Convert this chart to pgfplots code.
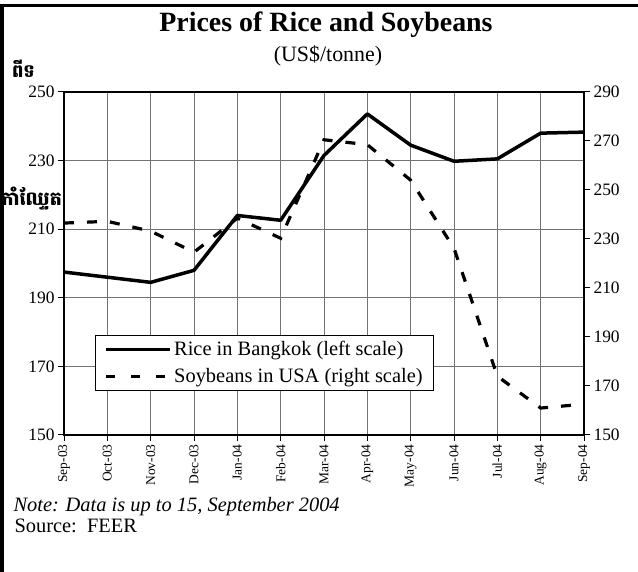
\documentclass[border=0pt]{standalone}
\usepackage{pgfplots}
\pgfplotsset{compat=1.18}
\usepackage{fontspec}
\setmainfont{Liberation Serif}
\newfontfamily\khmerfont[Script=Khmer]{Battambang}
\pgfplotstableread{
x rice
0 197.5
1 196.0
2 194.5
3 198.0
4 214.0
5 212.6
6 231.5
7 243.6
8 234.5
9 229.8
10 230.5
11 238.0
12 238.3
}\ricedata
\pgfplotstableread{
x soy
0 236.5
1 237.2
2 233.2
3 224.6
4 238.5
5 230.3
6 270.5
7 268.5
8 254.0
9 226.2
10 174.0
11 161.0
12 162.6
}\soydata
\begin{document}
\begin{tikzpicture}[x=1bp,y=1bp]
\path[use as bounding box] (0,0) rectangle (638,572);
\node[anchor=base east,inner sep=0pt,font=\khmerfont\bfseries\fontsize{18}{18}\selectfont] at (35,494) {ពីទ};
\node[anchor=base east,inner sep=0pt,font=\khmerfont\bfseries\fontsize{19}{19}\selectfont] at (62,366) {កាំឈ្ទែត};
\fill[black] (0,0) rectangle (4,567);
\fill[black] (0,565) rectangle (638,567.5);
\node[font=\bfseries\fontsize{28}{28}\selectfont] at (326,547) {Prices of Rice and Soybeans};
\node[font=\fontsize{22}{22}\selectfont] at (328,516) {(US\$/tonne)};
\begin{axis}[
  at={(64bp,137bp)}, anchor=south west, scale only axis,
  width=520bp, height=343bp,
  xmin=0, xmax=12, ymin=150, ymax=250,
  xtick={0,...,12},
  xticklabels={Sep-03,Oct-03,Nov-03,Dec-03,Jan-04,Feb-04,Mar-04,Apr-04,May-04,Jun-04,Jul-04,Aug-04,Sep-04},
  ytick={150,170,...,250},
  xtick pos=bottom, ytick pos=left,
  tick align=outside, major tick length=6bp,
  tick style={black,line width=1bp},
  axis line style={black,line width=1.3bp},
  xmajorgrids, ymajorgrids,
  grid style={black!55,line width=0.9bp},
  /pgf/number format/assume math mode=true,
  yticklabel style={font=\fontsize{17.5}{17.5}\selectfont},
  xticklabel style={rotate=90,anchor=east,font=\fontsize{13.5}{13.5}\selectfont},
  legend style={at={(0.06,0.2915)},anchor=north west,draw=black,line width=1bp,
    font=\fontsize{20.5}{25}\selectfont,inner xsep=9bp,inner ysep=4bp,row sep=7bp},
  legend cell align=left,
  legend image code/.code={\draw[#1] (0bp,0bp) -- (64bp,0bp);},
]
\addplot[black,line width=3.5bp,line join=round] table[x=x,y=rice] {\ricedata};
\addlegendentry{Rice in Bangkok (left scale)}
\addlegendimage{black,line width=3.2bp,dash pattern=on 9bp off 16bp}
\addlegendentry{Soybeans in USA (right scale)}
\end{axis}
\begin{axis}[
  at={(64bp,137bp)}, anchor=south west, scale only axis,
  width=520bp, height=343bp,
  xmin=0, xmax=12, ymin=150, ymax=290,
  ytick={150,170,...,290},
  axis y line*=right, axis x line=none,
  tick align=outside, major tick length=6bp,
  tick style={black,line width=1bp},
  axis line style={black,line width=1.3bp},
  /pgf/number format/assume math mode=true,
  yticklabel style={font=\fontsize{17.5}{17.5}\selectfont},
]
\addplot[black,line width=3.2bp,dash pattern=on 10bp off 13bp] table[x=x,y=soy] {\soydata};
\end{axis}
\node[anchor=base west,font=\itshape\fontsize{20.5}{20.5}\selectfont] at (10,60) {Note: Data is up to 15, September 2004};
\node[anchor=base west,font=\fontsize{20.5}{20.5}\selectfont] at (11,39) {Source:\ \ FEER};
\end{tikzpicture}
\end{document}
